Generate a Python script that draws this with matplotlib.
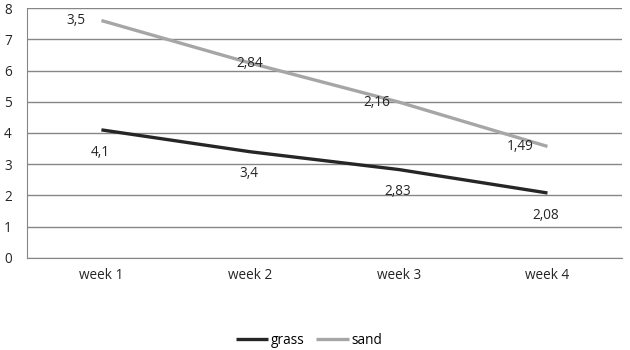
import numpy as np
from matplotlib import pyplot as plt

weeks = ['week 1', 'week 2', 'week 3', 'week 4']
grass = [4.1, 3.4, 2.83, 2.08]
sand = [3.5, 2.84, 2.16, 1.49]

plt.rcParams['font.family'] = ['Open Sans', 'DejaVu Sans']
fs = 9.8

fig = plt.figure(figsize=(6.3, 3.5), dpi=100)
ax = fig.add_axes([0.043, 0.263, 0.944, 0.714])

x = np.arange(len(weeks))
stacked = np.array(grass) + np.array(sand)

ax.plot(x, grass, color='#262626', lw=2.4, label='grass', solid_capstyle='butt')
ax.plot(x, stacked, color='#a6a6a6', lw=2.4, label='sand', solid_capstyle='butt')

def fmt(v):
    return ('%g' % v).replace('.', ',')

for i in range(len(x)):
    ax.annotate(fmt(grass[i]), (x[i], grass[i]), xytext=(-1, -16), textcoords='offset points',
                ha='center', va='center', fontsize=fs, color='#262626')
sand_dx = [-18, 0, -16, -20]
for i in range(len(x)):
    ax.annotate(fmt(sand[i]), (x[i], stacked[i]), xytext=(sand_dx[i], 0), textcoords='offset points',
                ha='center', va='center', fontsize=fs, color='#262626')

ax.set_xlim(-0.5, 3.5)
ax.set_ylim(0, 8)
ax.set_yticks(range(0, 9))
ax.set_xticks(x)
ax.set_xticklabels(weeks)
ax.grid(axis='y', color='#868686', lw=1)
ax.set_axisbelow(True)
for s in ['top', 'right']:
    ax.spines[s].set_visible(False)
ax.spines['left'].set_color('#868686')
ax.spines['bottom'].set_color('#868686')
ax.tick_params(axis='y', length=0, pad=11, labelsize=fs, labelcolor='#262626')
ax.tick_params(axis='x', length=0, pad=7, labelsize=fs, labelcolor='#262626')

fig.legend(loc='lower center', bbox_to_anchor=(0.49, -0.03), ncol=2, frameon=False,
           fontsize=fs, handlelength=2.4, handletextpad=0.15, columnspacing=0.9)

fig.savefig('out.png', dpi=100)
